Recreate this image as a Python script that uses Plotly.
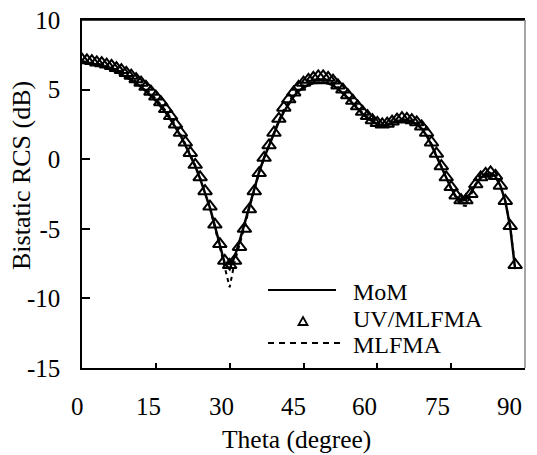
import plotly.graph_objects as go

# ---------------- data ----------------
theta_uv = list(range(0, 89))
rcs_uv = [7.15, 7.1, 7.05, 6.95, 6.9, 6.8, 6.7, 6.55, 6.4, 6.2,
          6.0, 5.75, 5.5, 5.2, 4.85, 4.5, 4.1, 3.6, 3.1, 2.5,
          1.9, 1.2, 0.45, -0.4, -1.3, -2.3, -3.4, -4.7, -6.1, -7.3,
          -7.6, -7.3, -6.3, -5.0, -3.6, -2.3, -1.0, 0.1, 1.0, 1.9,
          2.9, 3.7, 4.3, 4.8, 5.2, 5.5, 5.7, 5.85, 5.95, 5.95,
          5.85, 5.65, 5.3, 5.0, 4.6, 4.2, 3.8, 3.4, 3.1, 2.8,
          2.6, 2.5, 2.55, 2.7, 2.85, 2.95, 2.9, 2.8, 2.65, 2.35,
          1.9, 1.2, 0.4, -0.5, -1.3, -2.0, -2.6, -2.95, -2.95, -2.5,
          -1.8, -1.3, -1.05, -0.95, -1.2, -1.9, -3.0, -4.8, -7.6]

theta_mom = list(range(0, 89))
rcs_mom = [6.95, 6.9, 6.85, 6.8, 6.7, 6.6, 6.45, 6.3, 6.1, 5.9,
           5.7, 5.45, 5.2, 4.9, 4.55, 4.2, 3.8, 3.35, 2.85, 2.3,
           1.7, 1.0, 0.3, -0.5, -1.4, -2.4, -3.5, -4.8, -6.2, -7.5,
           -7.9, -7.0, -5.9, -4.6, -3.3, -2.1, -0.9, 0.1, 1.0, 1.9,
           2.7, 3.4, 4.0, 4.5, 4.9, 5.15, 5.35, 5.45, 5.5, 5.5,
           5.45, 5.3, 5.05, 4.75, 4.4, 4.0, 3.6, 3.25, 2.95, 2.7,
           2.5, 2.4, 2.45, 2.6, 2.75, 2.8, 2.8, 2.7, 2.5, 2.2,
           1.7, 1.0, 0.2, -0.6, -1.4, -2.1, -2.7, -3.0, -2.9, -2.4,
           -1.8, -1.35, -1.1, -1.0, -1.25, -1.9, -3.0, -4.9, -7.9]

theta_mlfma = list(range(0, 89))
rcs_mlfma = [7.05, 7.0, 6.95, 6.88, 6.8, 6.7, 6.58, 6.42, 6.25, 6.05,
             5.85, 5.6, 5.35, 5.05, 4.7, 4.35, 3.95, 3.48, 2.98, 2.4,
             1.8, 1.1, 0.37, -0.45, -1.35, -2.35, -3.5, -4.9, -6.4, -7.9,
             -9.2, -7.4, -6.2, -4.9, -3.5, -2.2, -0.95, 0.1, 1.0, 1.9,
             2.8, 3.55, 4.15, 4.65, 5.05, 5.3, 5.5, 5.65, 5.72, 5.72,
             5.65, 5.48, 5.18, 4.88, 4.5, 4.1, 3.7, 3.32, 3.02, 2.75,
             2.55, 2.45, 2.5, 2.65, 2.8, 2.88, 2.85, 2.75, 2.58, 2.28,
             1.8, 1.1, 0.3, -0.55, -1.35, -2.1, -2.8, -3.3, -3.35, -2.6,
             -1.8, -1.3, -1.07, -0.97, -1.22, -1.9, -3.0, -4.85, -7.8]

x_ticks = [0, 15, 30, 45, 60, 75, 90]
y_ticks = [-15, -10, -5, 0, 5, 10]
legend_names = ["MoM", "UV/MLFMA", "MLFMA"]

# ---------------- layout geometry ----------------
W, H = 537, 455
L, R, T, B = 82, 12, 20, 87
PW, PH = W - L - R, H - T - B
FONT = "Times New Roman"
FS = 25


def px(x):
    return (x - L) / PW


def py(y):
    return (H - B - y) / PH


def txt_font(size=FS):
    return dict(family=FONT, size=size, color="black")


fig = go.Figure()
fig.add_trace(go.Scatter(x=theta_mom, y=rcs_mom, mode="lines", name=legend_names[0],
                         line=dict(color="black", width=2.5), showlegend=False))
fig.add_trace(go.Scatter(x=theta_uv, y=rcs_uv, mode="markers", name=legend_names[1],
                         marker=dict(symbol="triangle-up-open", size=12, color="black",
                                     line=dict(width=2, color="black")),
                         showlegend=False))
fig.add_trace(go.Scatter(x=theta_mlfma, y=rcs_mlfma, mode="lines", name=legend_names[2],
                         line=dict(color="black", width=2, dash="4px,4px"), showlegend=False))

shapes = [
    dict(type="line", xref="paper", yref="paper", x0=0, x1=1, y0=1, y1=1,
         line=dict(color="black", width=1.5)),
    dict(type="line", xref="paper", yref="paper", x0=1, x1=1, y0=0, y1=1,
         line=dict(color="#888888", width=1.5)),
    dict(type="line", xref="paper", yref="paper", x0=px(268), x1=px(336), y0=py(290), y1=py(290),
         line=dict(color="black", width=2)),
    dict(type="line", xref="paper", yref="paper", x0=px(268), x1=px(343), y0=py(343), y1=py(343),
         line=dict(color="black", width=2, dash="6px,5px")),
    dict(type="path", xref="paper", yref="paper",
         path=f"M {px(303)} {py(317)} L {px(307.5)} {py(325)} L {px(298.5)} {py(325)} Z",
         line=dict(color="black", width=1.8)),
]

annotations = [
    dict(text=legend_names[0], x=px(351), y=py(292), xref="paper", yref="paper",
         xanchor="left", yanchor="middle", showarrow=False, font=txt_font(24)),
    dict(text=legend_names[1], x=px(351), y=py(319), xref="paper", yref="paper",
         xanchor="left", yanchor="middle", showarrow=False, font=txt_font(24)),
    dict(text=legend_names[2], x=px(351), y=py(345), xref="paper", yref="paper",
         xanchor="left", yanchor="middle", showarrow=False, font=txt_font(24)),
    dict(text="Theta (degree)", x=px(296), y=py(439), xref="paper", yref="paper", borderpad=0,
         xanchor="center", yanchor="middle", showarrow=False, font=txt_font(25.5)),
    dict(text="Bistatic RCS (dB)", x=px(21), y=py(176), xref="paper", yref="paper", textangle=-90,
         borderpad=0, xanchor="center", yanchor="middle", showarrow=False, font=txt_font(26)),
]
# x tick labels (drifting slightly left of their ticks, as in the original figure)
for v in x_ticks:
    annotations.append(dict(text=str(v), x=v, xref="x", y=py(406), yref="paper",
                            xshift=-(5 + 11 * v / 90), xanchor="center", yanchor="middle",
                            showarrow=False, font=txt_font()))

fig.update_layout(
    width=W, height=H,
    margin=dict(l=L, r=R, t=T, b=B, pad=0),
    paper_bgcolor="white", plot_bgcolor="white",
    font=dict(family=FONT, size=FS, color="black"),
    showlegend=False,
    shapes=shapes,
    annotations=annotations,
    xaxis=dict(range=[0, 90], tickvals=x_ticks, showticklabels=False, automargin=False,
               showgrid=False, zeroline=False, showline=True, mirror=True,
               linecolor="black", linewidth=1.5,
               ticks="inside", ticklen=5, tickwidth=1.5, tickcolor="black"),
    yaxis=dict(range=[-15, 10], tickvals=y_ticks, ticktext=[str(v) for v in y_ticks], automargin=False,
               showgrid=False, zeroline=False, showline=True, linecolor="black", linewidth=1.5,
               ticks="inside", ticklen=8, tickwidth=1.5, tickcolor="black",
               ticklabelstandoff=15, tickfont=txt_font()),
    yaxis2=dict(range=[-15, 10], overlaying="y", anchor="x", side="right", automargin=False,
                showgrid=False, zeroline=False, showticklabels=False, ticks="",
                showline=True, linecolor="#888888", linewidth=1.5),
)

fig.write_html("out.html")
